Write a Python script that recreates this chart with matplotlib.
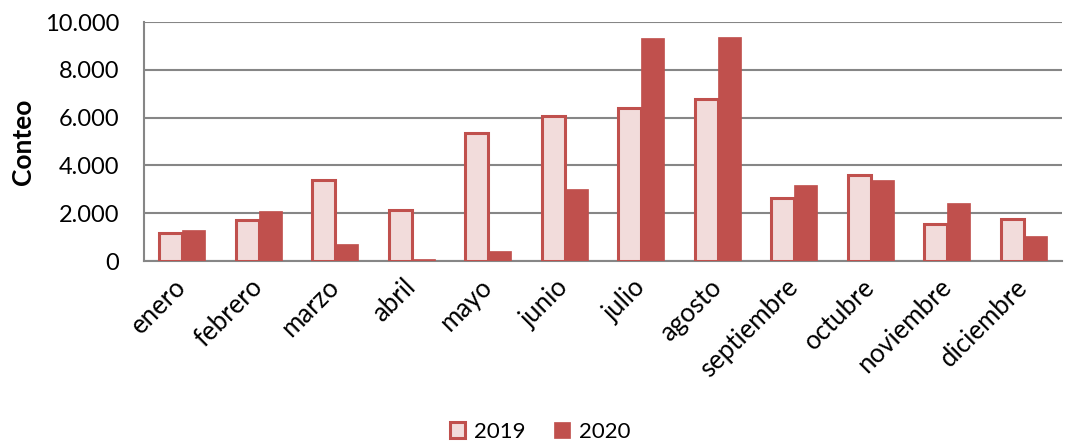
import matplotlib
matplotlib.use("Agg")
import matplotlib.pyplot as plt
import matplotlib.transforms as mtransforms
import numpy as np
from matplotlib.ticker import FuncFormatter

months = ["enero", "febrero", "marzo", "abril", "mayo", "junio", "julio",
          "agosto", "septiembre", "octubre", "noviembre", "diciembre"]
v2019 = [1160, 1720, 3410, 2150, 5360, 6090, 6400, 6790, 2630, 3600, 1550, 1750]
v2020 = [1300, 2100, 730, 100, 420, 3010, 9350, 9370, 3190, 3370, 2410, 1060]
yticks = [0, 2000, 4000, 6000, 8000, 10000]

plt.rcParams['font.family'] = ['Lato', 'DejaVu Sans']

fig = plt.figure(figsize=(10.65, 4.42), dpi=100)
ax = fig.add_axes([0.1352, 0.4095, 0.862, 0.5405])

x = np.arange(len(months))
w = 0.30
red = "#C0504D"
pink = "#F2DCDB"
ax.bar(x - w / 2, v2019, w, color=pink, edgecolor=red, linewidth=2.2, label="2019", zorder=3)
ax.bar(x + w / 2, v2020, w, color=red, edgecolor=red, linewidth=0.5, label="2020", zorder=3)

ax.set_xlim(-0.5, len(months) - 0.5)
ax.set_ylim(0, 10000)
ax.set_yticks(yticks)
ax.yaxis.set_major_formatter(FuncFormatter(lambda v, p: f"{int(v):,}".replace(",", ".")))
ax.yaxis.grid(True, color="#868686", linewidth=1.5, zorder=0)
ax.set_axisbelow(True)

for s in ["top", "right"]:
    ax.spines[s].set_visible(False)
for s in ["left", "bottom"]:
    ax.spines[s].set_color("#868686")
    ax.spines[s].set_linewidth(1.5)

ax.set_xticks(x)
ax.set_xticklabels(months, rotation=45, ha="right", va="center", rotation_mode="anchor", fontsize=18.5)
offset = mtransforms.ScaledTranslation(0.06, -0.02, fig.dpi_scale_trans)
for lab in ax.get_xticklabels():
    lab.set_transform(lab.get_transform() + offset)
ax.tick_params(axis="y", labelsize=17, length=0, pad=18)
ax.tick_params(axis="x", length=0, pad=16)
ax.set_ylabel("Conteo", fontsize=19, fontweight="bold", labelpad=7)

fig.legend(loc="lower center", bbox_to_anchor=(0.507, -0.045), ncol=2, frameon=False,
           fontsize=16, handlelength=0.7, handleheight=0.7, handletextpad=0.4,
           columnspacing=1.3)

fig.savefig("out.png", dpi=100)
